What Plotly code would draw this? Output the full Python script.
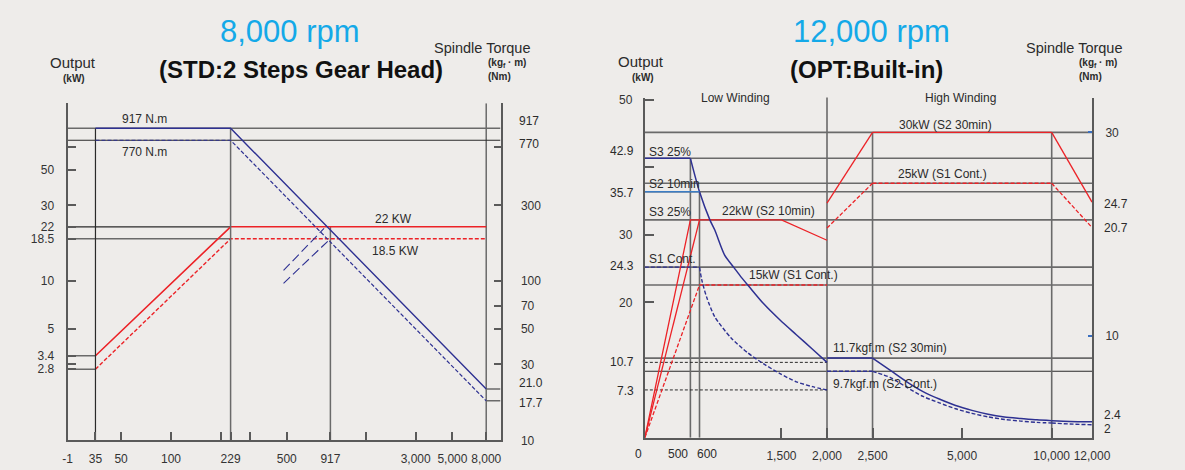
import math
import plotly.graph_objects as go

# ====================== DATA : left chart (8,000 rpm, STD: 2 Steps Gear Head) ======================
L_RPM = [35, 229, 8000]                 # breakpoints of the curves (rpm)
L_KW_22 = [3.4, 22, 22]                 # output, solid red (22 KW)
L_KW_185 = [2.8, 18.5, 18.5]            # output, dashed red (18.5 KW)
L_NM_917 = [917, 917, 21.0]             # torque, solid blue (917 N.m)
L_NM_770 = [770, 770, 17.7]             # torque, dashed blue (770 N.m)
L_CROSS_RPM = 917                       # speed where torque meets 22 KW
L_GUIDE_A_RPM = [478, 840]
L_GUIDE_A_KW = [11.7, 21.5]
L_GUIDE_B_RPM = [478, 917]
L_GUIDE_B_KW = [9.7, 18.5]

L_X_TICKS = [35, 50, 100, 229, 500, 917, 3000, 5000, 8000]
L_X_LABELS = ["35", "50", "100", "229", "500", "917", "3,000", "5,000", "8,000"]
L_X_MINOR = [200, 300, 1500]
L_X_FIRST_LABEL = "-1"
L_KW_TICKS = [50, 30, 22, 18.5, 10, 5, 3.4, 2.8]
L_KW_LABELS = ["50", "30", "22", "18.5", "10", "5", "3.4", "2.8"]
L_KW_MINOR = [70, 3]
L_NM_TICKS = [300, 100, 70, 50, 30, 10]
L_NM_LABELS = ["300", "100", "70", "50", "30", "10"]
L_NM_MINOR = [700]

# ====================== DATA : right chart (12,000 rpm, OPT: Built-in) ======================
# output (red), read on the chart's torque scale
R_RED_S3_RPM = [0, 500, 1500, 2000]
R_RED_S3_KW = [0, 21.4, 21.4, 19.4]
R_RED_S2_10_RPM = [0, 600]
R_RED_S2_10_KW = [0, 21.4]
R_RED_S1_LOW_RPM = [0, 600, 2000]
R_RED_S1_LOW_KW = [0, 15.0, 15.0]
R_RED_S2_30_RPM = [2000, 2500, 10000, 12000]
R_RED_S2_30_KW = [23.05, 30.0, 30.0, 23.15]
R_RED_S1_HIGH_RPM = [2000, 2500, 10000, 12000]
R_RED_S1_HIGH_KW = [20.6, 25.0, 25.0, 20.65]

# torque (blue)
R_BLUE_S3_RPM = [0, 500, 600, 715, 768, 876, 983, 1055, 1144, 1305, 1484, 1663, 1841, 2000]
R_BLUE_S3_TQ = [27.45, 27.45, 24.16, 21.38, 20.4, 17.94, 16.66, 15.8, 14.85, 13.15, 11.56, 10.12, 8.69, 7.40]
R_BLUE_S2_10_RPM = [0, 600]
R_BLUE_S2_10_TQ = [24.16, 24.16]
R_BLUE_S1_LOW_RPM = [0, 600, 625, 679, 768, 947, 1127, 1305, 1484, 1663, 1841, 2000]
R_BLUE_S1_LOW_TQ = [16.76, 16.76, 15.5, 13.79, 11.87, 9.80, 8.36, 7.25, 6.29, 5.49, 5.01, 4.69]
R_BLUE_HIGH_RPM = [2000, 2500, 2870, 3258, 3695, 4190, 4755, 5395, 6115, 6940, 7870, 8925, 10000, 10898, 12000]
R_BLUE_S2_30_TQ = [7.82, 7.82, 6.61, 5.49, 4.53, 3.80, 3.16, 2.68, 2.30, 2.04, 1.89, 1.75, 1.67, 1.60, 1.56]
R_BLUE_S1_HIGH_TQ = [6.52, 6.52, 5.91, 4.95, 4.05, 3.42, 2.84, 2.39, 2.04, 1.79, 1.63, 1.50, 1.44, 1.34, 1.27]

R_X_TICKS_LOW = [1500, 2000]
R_X_LABELS_LOW = ["1,500", "2,000"]
R_X_TICKS_MID = [2500, 5000]
R_X_LABELS_MID = ["2,500", "5,000"]
R_X_TICKS_END = [10000, 12000]
R_X_LABELS_END = ["10,000", "12,000"]
R_KW_TICKS = [50, 30, 20]
R_KW_LABELS = ["50", "30", "20"]
R_KW_MINOR = [40]
R_TQ_TICKS = [30, 10]
R_TQ_LABELS = ["30", "10"]

# ====================== STYLE / GEOMETRY ======================
FONT = "Liberation Sans, Arial, Helvetica, sans-serif"
W, H = 1185, 470
BG = "#EEECEA"
BLUE = "#2E3192"
BLUE_L = "#3C7DC4"
RED = "#EC2227"
GRAY = "#6A6A6A"
DARK = "#2A2A2A"
AXC = "#5A5A5A"
CYAN = "#14A9E8"
TXT = "#2B2B2B"

L_LEFT, L_RIGHT, L_TOP, L_BOTTOM = 61, 504, 100.7, 446.7
L_XRANGE = [1.3759, 3.9894]
L_KW_RANGE = [0.0, 2.12]
L_NM_RANGE = [1.0, 3.12]

R_LEFT, R_RIGHT, R_TOP, R_BOTTOM = 651.7, 1109.3, 95.0, 444.0
R_LIN_PX = 0.0932        # px per rpm on the 0-2,500 segment
R_LOG_PX = 304.5         # px per decade on the 2,500-10,000 segment
R_TQ_RANGE = [0, 33.42]
R_KW_RANGE = [0, 50.3]

seg1_range = [0, 2700]
p2500 = R_LEFT + 2500 * R_LIN_PX
seg2_range = [math.log10(2200), math.log10(11000)]
seg2_dom = [p2500 - (math.log10(2500) - seg2_range[0]) * R_LOG_PX,
            p2500 + (seg2_range[1] - math.log10(2500)) * R_LOG_PX]
p10000 = p2500 + math.log10(4) * R_LOG_PX
R_END_PX = (R_RIGHT - p10000) / 2000
seg3_range = [9500, 12000]
seg3_dom = [p10000 - 500 * R_END_PX, R_RIGHT]

fig = go.Figure()


def line(x, y, xa, ya, color, width=1.5, dash="solid", shape="linear"):
    ln = dict(color=color, width=width, dash=dash, shape=shape)
    if shape == "spline":
        ln["smoothing"] = 0.7
    fig.add_trace(go.Scatter(x=x, y=y, xaxis=xa, yaxis=ya, mode="lines", line=ln,
                             hoverinfo="skip", showlegend=False))


SEGMENTS = [("x3", 0, 2500), ("x4", 2500, 10000), ("x5", 10000, 12000)]


def split_line(xs, ys, color, width=1.5, dash="solid", shape="linear"):
    for ax, lo, hi in SEGMENTS:
        pts = [(a, b) for a, b in zip(xs, ys) if lo <= a <= hi]
        if len(pts) >= 2:
            line([p[0] for p in pts], [p[1] for p in pts], ax, "y3", color, width, dash,
                 shape if len(pts) > 2 else "linear")


def flat_then_curve(xs, ys, n_flat, color, width=1.5, dash="solid"):
    """Straight leading part (first n_flat points) then a smooth curve through the rest."""
    split_line(xs[:n_flat], ys[:n_flat], color, width, dash)
    split_line(xs[n_flat - 1:], ys[n_flat - 1:], color, width, dash, "spline")


def ann(text, x, y, size=12, color=TXT, xanchor="center", xref="paper", yref="paper",
        xshift=0, yshift=0, bold=False):
    fig.add_annotation(
        text=("<b>%s</b>" % text) if bold else text,
        x=x / W if xref == "paper" else x,
        y=(1 - y / H) if yref == "paper" else y,
        xref=xref, yref=yref, xanchor=xanchor, yanchor="middle",
        xshift=xshift, yshift=yshift, showarrow=False,
        font=dict(family=FONT, size=size, color=color))


# ---------------------- left chart: structure lines ----------------------
x_min, x_max = 10 ** L_XRANGE[0], 10 ** L_XRANGE[1]
kw_min, kw_max = 10 ** L_KW_RANGE[0], 10 ** L_KW_RANGE[1]
nm_min, nm_max = 10 ** L_NM_RANGE[0], 10 ** L_NM_RANGE[1]

line([x_min, x_max], [L_NM_917[0]] * 2, "x", "y2", GRAY, 1.5)
line([x_min, x_max], [L_NM_770[0]] * 2, "x", "y2", DARK, 1.2)
line([x_min, L_RPM[1]], [L_KW_22[1]] * 2, "x", "y", DARK, 1.2)
line([x_min, L_RPM[1]], [L_KW_185[1]] * 2, "x", "y", GRAY, 1.5)
line([x_min, L_RPM[0]], [L_KW_22[0]] * 2, "x", "y", GRAY, 1.5)
line([x_min, L_RPM[0]], [L_KW_185[0]] * 2, "x", "y", GRAY, 1.5)
line([L_RPM[-1], x_max], [L_NM_917[-1]] * 2, "x", "y2", GRAY, 1.5)
line([L_RPM[-1], x_max], [L_NM_770[-1]] * 2, "x", "y2", GRAY, 1.5)
line([L_RPM[0]] * 2, [nm_min, L_NM_917[0]], "x", "y2", DARK, 1.2)
line([L_RPM[1]] * 2, [nm_min, L_NM_917[0]], "x", "y2", GRAY, 1.5)
line([L_CROSS_RPM] * 2, [kw_min, L_KW_22[1]], "x", "y", GRAY, 1.5)
line([L_RPM[-1]] * 2, [kw_min, kw_max], "x", "y", GRAY, 1.5)

# left chart: curves
line(L_RPM, L_KW_22, "x", "y", RED, 1.6)
line(L_RPM, L_KW_185, "x", "y", RED, 1.4, "4px,2px")
line(L_RPM, L_NM_917, "x", "y2", BLUE, 1.4)
line(L_RPM, L_NM_770, "x", "y2", BLUE, 1.2, "4px,2px")
line(L_GUIDE_A_RPM, L_GUIDE_A_KW, "x", "y", BLUE, 1.1, "9px,4px")
line(L_GUIDE_B_RPM, L_GUIDE_B_KW, "x", "y", BLUE, 1.1, "9px,4px")

# ---------------------- right chart: structure lines ----------------------
grid_levels = [
    (R_RED_S2_30_KW[1], GRAY, 1.6), (R_BLUE_S3_TQ[0], GRAY, 1.6), (R_RED_S1_HIGH_KW[1], GRAY, 1.6),
    (R_BLUE_S2_10_TQ[0], GRAY, 1.6), (R_RED_S3_KW[1], GRAY, 1.6), (R_BLUE_S1_LOW_TQ[0], GRAY, 1.6),
    (R_RED_S1_LOW_KW[1], GRAY, 1.6), (R_BLUE_S2_30_TQ[0], GRAY, 1.6), (R_BLUE_S1_HIGH_TQ[0], DARK, 1.1),
]
for lvl, col, wd in grid_levels:
    fig.add_shape(type="line", xref="paper", yref="y3", x0=R_LEFT / W, x1=R_RIGHT / W,
                  y0=lvl, y1=lvl, line=dict(color=col, width=wd), layer="below")
fig.add_shape(type="line", xref="x3", yref="y3 domain", x0=R_RED_S3_RPM[-1], x1=R_RED_S3_RPM[-1],
              y0=0, y1=1, line=dict(color=GRAY, width=1.6), layer="below")

line([R_RED_S3_RPM[1]] * 2, [0, R_BLUE_S3_TQ[0]], "x3", "y3", GRAY, 1.6)
line([R_RED_S2_10_RPM[1]] * 2, [0, R_BLUE_S2_10_TQ[0]], "x3", "y3", GRAY, 1.6)
line([R_RED_S2_30_RPM[1]] * 2, [0, R_RED_S2_30_KW[1]], "x3", "y3", GRAY, 1.6)
line([R_RED_S2_30_RPM[2]] * 2, [0, R_RED_S2_30_KW[2]], "x4", "y3", GRAY, 1.6)
line([0, R_BLUE_S3_RPM[-1]], [R_BLUE_S3_TQ[-1]] * 2, "x3", "y3", DARK, 1.0, "3px,2px")
line([0, R_BLUE_S1_LOW_RPM[-1]], [R_BLUE_S1_LOW_TQ[-1]] * 2, "x3", "y3", DARK, 1.0, "3px,2px")

# right chart: curves
split_line(R_RED_S3_RPM, R_RED_S3_KW, RED, 1.3)
split_line(R_RED_S2_10_RPM, R_RED_S2_10_KW, RED, 1.3)
split_line(R_RED_S1_LOW_RPM, R_RED_S1_LOW_KW, RED, 1.3, "4px,2px")
split_line(R_RED_S2_30_RPM, R_RED_S2_30_KW, RED, 1.3)
split_line(R_RED_S1_HIGH_RPM, R_RED_S1_HIGH_KW, RED, 1.3, "4px,2px")
flat_then_curve(R_BLUE_S3_RPM, R_BLUE_S3_TQ, 2, BLUE, 1.5)
split_line(R_BLUE_S2_10_RPM, R_BLUE_S2_10_TQ, BLUE_L, 1.5)
flat_then_curve(R_BLUE_S1_LOW_RPM, R_BLUE_S1_LOW_TQ, 2, BLUE, 1.4, "4px,2px")
flat_then_curve(R_BLUE_HIGH_RPM, R_BLUE_S2_30_TQ, 2, BLUE, 1.5)
flat_then_curve(R_BLUE_HIGH_RPM, R_BLUE_S1_HIGH_TQ, 2, BLUE, 1.4, "4px,2px")
fig.add_trace(go.Scatter(x=[None], y=[None], xaxis="x3", yaxis="y4", showlegend=False, hoverinfo="skip"))

# ---------------------- axes ----------------------
AX = dict(showline=True, linecolor=AXC, linewidth=2, showgrid=False, zeroline=False,
          ticks="inside", tickcolor=AXC, tickwidth=1.5, tickangle=0, fixedrange=True,
          tickmode="array", tickfont=dict(family=FONT, size=12, color="#333333"))


def minor(vals, length, color=AXC):
    return dict(tickmode="array", tickvals=vals, ticks="inside", ticklen=length,
                tickcolor=color, tickwidth=1.5, showgrid=False)


fig.update_layout(
    width=W, height=H, margin=dict(l=0, r=0, t=0, b=0),
    paper_bgcolor=BG, plot_bgcolor="rgba(0,0,0,0)", showlegend=False,
    xaxis=dict(AX, domain=[L_LEFT / W, L_RIGHT / W], type="log", range=L_XRANGE, anchor="y",
               tickvals=[x_min * 1.001] + L_X_TICKS, ticktext=[L_X_FIRST_LABEL] + L_X_LABELS,
               ticklen=8, ticklabelstandoff=6, minor=minor(L_X_MINOR, 8)),
    yaxis=dict(AX, domain=[1 - L_BOTTOM / H, 1 - L_TOP / H], type="log", range=L_KW_RANGE,
               anchor="x", side="left", tickvals=L_KW_TICKS, ticktext=L_KW_LABELS,
               ticklen=8, ticklabelstandoff=9, minor=minor([kw_max * 0.999] + L_KW_MINOR, 8)),
    yaxis2=dict(AX, overlaying="y", anchor="x", side="right", type="log", range=L_NM_RANGE,
                tickvals=L_NM_TICKS, ticktext=L_NM_LABELS, ticklen=7, ticklabelstandoff=16,
                minor=minor([nm_max * 0.999] + L_NM_MINOR, 7)),
    xaxis3=dict(AX, domain=[R_LEFT / W, (R_LEFT + seg1_range[1] * R_LIN_PX) / W], range=seg1_range,
                anchor="y3", tickvals=R_X_TICKS_LOW, ticktext=R_X_LABELS_LOW, ticklen=10,
                ticklabelstandoff=6),
    xaxis4=dict(AX, domain=[seg2_dom[0] / W, seg2_dom[1] / W], type="log", range=seg2_range,
                anchor="y3", tickvals=R_X_TICKS_MID, ticktext=R_X_LABELS_MID, ticklen=10,
                ticklabelstandoff=6),
    xaxis5=dict(AX, domain=[seg3_dom[0] / W, seg3_dom[1] / W], range=seg3_range, anchor="y3",
                tickvals=R_X_TICKS_END, ticktext=R_X_LABELS_END, ticklen=10, ticklabelstandoff=6),
    yaxis3=dict(AX, domain=[1 - R_BOTTOM / H, 1 - R_TOP / H], range=R_TQ_RANGE, anchor="x5",
                side="right", tickvals=R_TQ_TICKS, ticktext=R_TQ_LABELS, ticklen=4,
                tickcolor="#3A6FC0", tickwidth=2, ticklabelstandoff=9),
    yaxis4=dict(AX, overlaying="y3", anchor="x3", side="left", range=R_KW_RANGE,
                tickvals=R_KW_TICKS, ticktext=R_KW_LABELS, ticklen=9, ticklabelstandoff=8,
                minor=minor(R_KW_MINOR, 9)),
)

# bottom labels of the right chart that are nudged apart
ann("0", 0, R_BOTTOM + 17, xref="x3", xshift=-6)
ann("500", R_RED_S3_RPM[1], R_BOTTOM + 17, xref="x3", xshift=-12)
ann("600", R_RED_S2_10_RPM[1], R_BOTTOM + 17, xref="x3", xshift=7)

# ---------------------- text: left chart ----------------------
ann("8,000 rpm", 288.5, 27, size=31, color=CYAN)
ann("(STD:2 Steps Gear Head)", 300, 66, size=24, color="#111111", bold=True)
ann("Output", 66.5, 58.5, size=15)
ann("(kW)", 68, 75, size=10, bold=True)
ann("Spindle Torque", 485, 44, size=14.5)
ann("(kg<sub>f</sub> · m)", 489, 60, size=10, bold=True, xanchor="left")
ann("(Nm)", 489, 73, size=10, bold=True, xanchor="left")
ann("917 N.m", 140, 116.7, size=12)
ann("770 N.m", 140, 150.7, size=12)
ann("22 KW", 394.5, 219.3, size=12)
ann("18.5 KW", 396.7, 252.7, size=12)
ann("917", 521, math.log10(L_NM_917[0]), xanchor="left", yref="y2", yshift=7)
ann("770", 521, math.log10(L_NM_770[0]), xanchor="left", yref="y2", yshift=-4)
ann("21.0", 521, math.log10(L_NM_917[-1]), xanchor="left", yref="y2", yshift=6)
ann("17.7", 521, math.log10(L_NM_770[-1]), xanchor="left", yref="y2", yshift=-2)

# ---------------------- text: right chart ----------------------
ann("12,000 rpm", 883.5, 27, size=31, color=CYAN)
ann("(OPT:Built-in)", 879, 66, size=24, color="#111111", bold=True)
ann("Output", 648, 57.5, size=15)
ann("(kW)", 650, 74, size=10, bold=True)
ann("Spindle Torque", 1090.5, 44.3, size=14.5)
ann("(kg<sub>f</sub> · m)", 1094, 60, size=10, bold=True, xanchor="left")
ann("(Nm)", 1094, 73.3, size=10, bold=True, xanchor="left")
ann("Low Winding", 744.5, 95, size=12)
ann("High Winding", 975, 95, size=12)
ann("S3 25%", 654, 150.5, xanchor="left")
ann("S2 10min", 654, 183.5, xanchor="left")
ann("S3 25%", 654, 212.7, xanchor="left")
ann("S1 Cont.", 654, 260.7, xanchor="left")
ann("30kW (S2 30min)", 959, 122.7)
ann("25kW (S1 Cont.)", 956.5, 173.3)
ann("22kW (S2 10min)", 778.7, 211)
ann("15kW (S1 Cont.)", 756, 277.3, xanchor="left")
ann("11.7kgf.m (S2 30min)", 842, 351.7, xanchor="left")
ann("9.7kgf.m (S2 Cont.)", 842, 388.7, xanchor="left")
ann("42.9", 643, R_BLUE_S3_TQ[0], xanchor="right", yref="y3", yshift=7)
ann("35.7", 643, R_BLUE_S2_10_TQ[0], xanchor="right", yref="y3", yshift=-1)
ann("24.3", 643, R_BLUE_S1_LOW_TQ[0], xanchor="right", yref="y3", yshift=1)
ann("10.7", 643, R_BLUE_S3_TQ[-1], xanchor="right", yref="y3")
ann("7.3", 643, R_BLUE_S1_LOW_TQ[-1], xanchor="right", yref="y3", yshift=-1)
ann("24.7", 1119, R_RED_S2_30_KW[-1], xanchor="left", yref="y3", yshift=-2)
ann("20.7", 1119, R_RED_S1_HIGH_KW[-1], xanchor="left", yref="y3")
ann("2.4", 1119, R_BLUE_S2_30_TQ[-1], xanchor="left", yref="y3", yshift=7)
ann("2", 1119, R_BLUE_S1_HIGH_TQ[-1], xanchor="left", yref="y3", yshift=-4)

fig.write_html(
    "out.html",
    config={"displayModeBar": False},
    post_script="document.body.style.margin='0';document.body.style.padding='0';"
                "document.body.style.overflow='hidden';document.body.style.background='%s';" % BG,
)
